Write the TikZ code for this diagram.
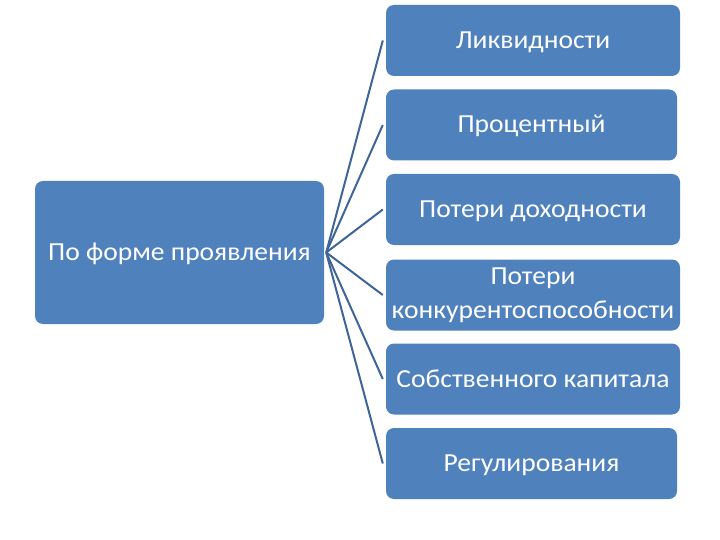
\documentclass[tikz,border=0pt]{standalone}
\usepackage{fontspec}
\setmainfont{Carlito}[FakeStretch=1.06]
\definecolor{boxblue}{HTML}{4F81BD}
\definecolor{lineblue}{HTML}{3F6497}
\begin{document}
\begin{tikzpicture}[x=1pt,y=-1pt,
  box/.style={fill=boxblue, draw=none, rounded corners=8pt, text=white, align=center,
    inner sep=0pt, font=\fontsize{26}{34}\selectfont},
  one/.style={text height=22pt, text depth=6pt},
  rbox/.style={box, minimum width=294pt, minimum height=71pt},
  conn/.style={draw=lineblue, line width=2pt}]
\useasboundingbox (0,0) rectangle (720,540);
\node[box, one, minimum width=289pt, minimum height=143pt] (L) at (179.5,252.5) {По форме проявления};
\node[rbox, one] (b1) at (533,40.5) {Ликвидности};
\node[rbox, one, minimum width=291pt] (b2) at (531.5,125) {Процентный};
\node[rbox, one] (b3) at (533,209.5) {Потери доходности};
\node[rbox] (b4) at (533,295) {Потери\\конкурентоспособности};
\node[rbox, one] (b5) at (533,379) {Собственного капитала};
\node[rbox, one, minimum width=291pt] (b6) at (531.5,463.5) {Регулирования};
\coordinate (src) at ([xshift=2pt]L.east);
\foreach \b in {b1,b2,b3,b4,b5,b6}
  \draw[conn] (src) -- ([xshift=-3pt]\b.west);
\end{tikzpicture}
\end{document}
